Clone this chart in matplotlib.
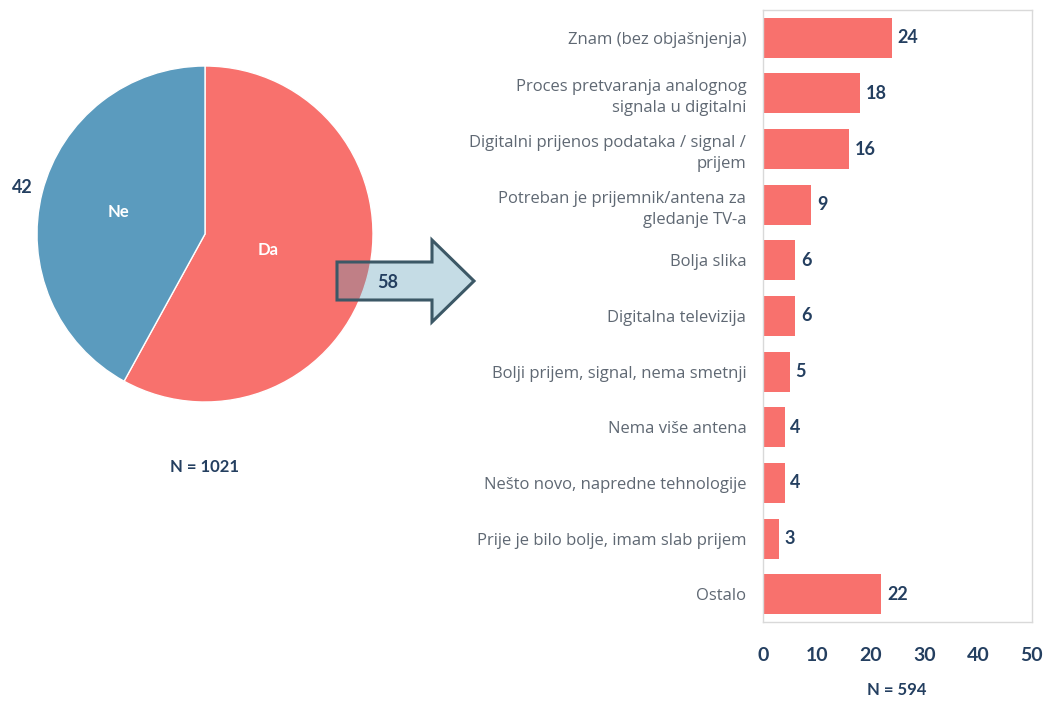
import numpy as np
import matplotlib.pyplot as plt
from matplotlib.patches import Polygon

plt.rcParams['font.family'] = ['Lato', 'DejaVu Sans']

pie_labels = ['Da', 'Ne']
pie_values = [58, 42]
pie_n = 'N = 1021'

categories = ['Znam (bez objašnjenja)',
              'Proces pretvaranja analognog\nsignala u digitalni',
              'Digitalni prijenos podataka / signal /\nprijem',
              'Potreban je prijemnik/antena za\ngledanje TV-a',
              'Bolja slika',
              'Digitalna televizija',
              'Bolji prijem, signal, nema smetnji',
              'Nema više antena',
              'Nešto novo, napredne tehnologije',
              'Prije je bilo bolje, imam slab prijem',
              'Ostalo']
values = [24, 18, 16, 9, 6, 6, 5, 4, 4, 3, 22]
bar_n = 'N = 594'
xticks = [0, 10, 20, 30, 40, 50]

red = '#F8716D'
blue = '#5B9BBE'
navy = '#243F60'
grey = '#5F6873'

W, H = 1050, 704
fig = plt.figure(figsize=(W / 100, H / 100), dpi=100)

# pie, centre (205, 234) px, radius 168 px
cx, cy, r = 205, 234, 168
ax_pie = fig.add_axes([(cx - r) / W, 1 - (cy + r) / H, 2 * r / W, 2 * r / H])
wedges, _ = ax_pie.pie(pie_values, colors=[red, blue], startangle=90,
                       counterclock=False, radius=1,
                       wedgeprops=dict(edgecolor='white', linewidth=1))
ax_pie.set_xlim(-1, 1)
ax_pie.set_ylim(-1, 1)
ax_pie.set_aspect('equal')
ax_pie.axis('off')

for w, lab, dist in zip(wedges, pie_labels, [0.39, 0.53]):
    ang = np.deg2rad((w.theta1 + w.theta2) / 2)
    ax_pie.text(dist * np.cos(ang), dist * np.sin(ang), lab, color='white',
                fontsize=12, fontweight='bold', ha='center', va='center')
# value of "Ne" outside the pie
w = wedges[1]
ang = np.deg2rad((w.theta1 + w.theta2) / 2)
ax_pie.text(1.12 * np.cos(ang), 1.12 * np.sin(ang), str(pie_values[1]),
            color=navy, fontsize=13, fontweight='bold', ha='center', va='center')

# bar chart
ax = fig.add_axes([763 / W, 1 - 622 / H, 269 / W, 612 / H])
y = np.arange(len(categories))
bars = ax.barh(y, values, height=0.72, color=red)
ax.set_ylim(len(categories) - 0.5, -0.5)
ax.set_xlim(0, 50)
ax.set_xticks(xticks)
ax.set_yticks(y)
ax.set_yticklabels(categories, fontsize=12, color=grey, linespacing=1.4,
                   family=['Open Sans', 'DejaVu Sans'])
ax.tick_params(axis='y', length=0, pad=12)
ax.tick_params(axis='x', length=0, pad=18, labelsize=14, labelcolor=navy)
for t in ax.get_xticklabels():
    t.set_fontweight('bold')
for s in ax.spines.values():
    s.set_color('#D9D9D9')
    s.set_linewidth(1)
ax.bar_label(bars, labels=[str(v) for v in values], padding=4,
             fontsize=13, fontweight='bold', color=navy)

# overlay for arrow and notes
ov = fig.add_axes([0, 0, 1, 1])
ov.set_xlim(0, W)
ov.set_ylim(H, 0)
ov.axis('off')
arrow_fill = Polygon([(337, 262), (432, 262), (432, 240), (474, 281),
                      (432, 322), (432, 300), (337, 300)], closed=True,
                     facecolor='#599BB5', alpha=0.35, edgecolor='none')
arrow_edge = Polygon(arrow_fill.get_xy(), closed=True, facecolor='none',
                     edgecolor='#3C5866', linewidth=2.2)
ov.add_patch(arrow_fill)
ov.add_patch(arrow_edge)
ov.text(388, 283, str(pie_values[0]), color=navy, fontsize=13,
        fontweight='bold', ha='center', va='center')
ov.text(cx, 467, pie_n, color=navy, fontsize=12, fontweight='bold',
        ha='center', va='center')
ov.text(897, 690, bar_n, color=navy, fontsize=12, fontweight='bold',
        ha='center', va='center')

fig.savefig('out.png', dpi=100, facecolor='white')
